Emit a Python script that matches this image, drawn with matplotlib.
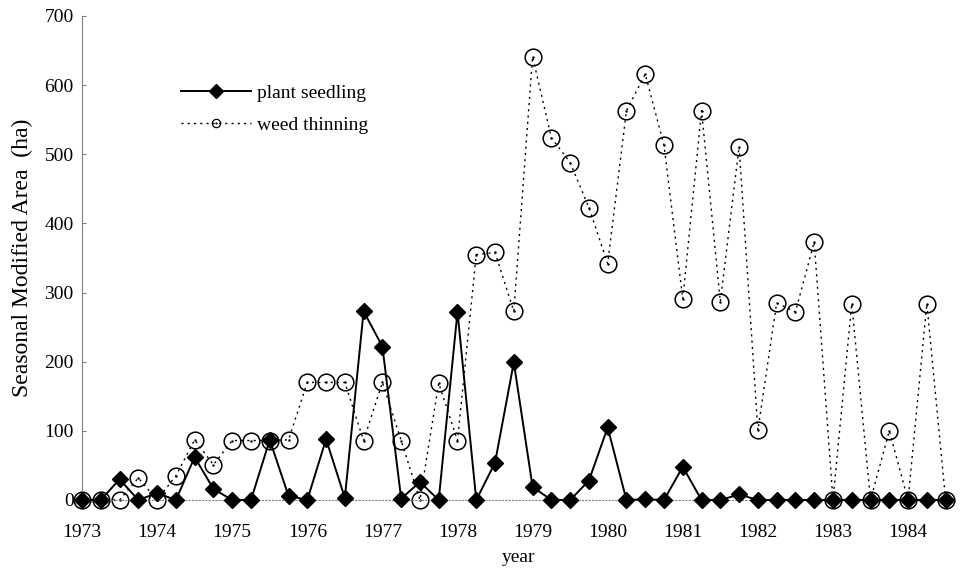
import numpy as np
import matplotlib
matplotlib.use("Agg")
import matplotlib.pyplot as plt
from matplotlib.lines import Line2D
from matplotlib.legend_handler import HandlerTuple

plt.rcParams['font.family'] = ['Liberation Serif', 'DejaVu Serif']

# ----------------------------------
# Data: quarterly (seasonal) values, 1973 Q1 .. 1984 Q3
# ----------------------------------
years = list(range(1973, 1985))

plant_seedling = [0, 0, 30, 0, 10, 0, 62, 16, 0, 0, 87, 6,
                  0, 88, 3, 273, 222, 2, 26, 0, 272, 0, 54, 199,
                  19, 0, 0, 28, 105, 0, 1, 0, 48, 0, 0, 8,
                  0, 0, 0, 0, 0, 0, 0, 0, 0, 0, 0]

weed_thinning = [0, 0, 0, 32, 0, 35, 87, 51, 86, 86, 86, 87,
                 170, 170, 170, 86, 170, 86, 0, 169, 86, 355, 358, 273,
                 641, 524, 488, 423, 342, 563, 616, 513, 291, 563, 287, 511,
                 101, 285, 272, 373, 0, 284, 0, 100, 0, 284, 0]

seasons = np.arange(len(plant_seedling))

# ----------------------------------
# Plot
# ----------------------------------
fig = plt.figure(figsize=(9.62, 5.68), dpi=100)
ax = fig.add_axes([82 / 962, 1 - 500 / 568, 873 / 962, 484 / 568])

wt_style = dict(color='black', linewidth=1.0, linestyle=(0, (1.5, 3)))
ax.plot(seasons, weed_thinning, marker='o', markersize=12,
        markerfacecolor='none', markeredgecolor='black', markeredgewidth=1.1,
        clip_on=False, zorder=2, **wt_style)
ax.plot(seasons, weed_thinning, linestyle='none', marker='.', markersize=1.5,
        color='black', clip_on=False, zorder=2)

ax.plot(seasons, plant_seedling, color='black', linewidth=1.4, marker='D',
        markersize=8, clip_on=False, zorder=3)

ax.set_xlim(0, 46.5)
ax.set_ylim(0, 700)
ax.set_yticks(range(0, 701, 100))
ax.set_xticks(seasons[::4])
ax.set_xticklabels([str(y) for y in years])

ax.tick_params(axis='y', direction='in', length=3, color='gray', labelsize=14, pad=6)
ax.tick_params(axis='x', length=0, labelsize=14, pad=17)

for side in ['top', 'right']:
    ax.spines[side].set_visible(False)
ax.spines['left'].set_color('gray')
ax.spines['left'].set_linewidth(0.8)
ax.spines['bottom'].set_color('gray')
ax.spines['bottom'].set_linewidth(0.8)
ax.spines['bottom'].set_linestyle((0, (1, 2)))

ax.set_xlabel('year', fontsize=14, labelpad=6)
ax.set_ylabel('Seasonal Modified Area  (ha)', fontsize=17, labelpad=8)

# legend
h_ps = Line2D([], [], color='black', linewidth=1.4, marker='D', markersize=7)
h_wt = Line2D([], [], marker='o', markersize=6, markerfacecolor='none',
              markeredgecolor='black', markeredgewidth=0.9, **wt_style)
h_dot = Line2D([], [], linestyle='none', marker='.', markersize=1.2, color='black')
ax.legend([h_ps, (h_wt, h_dot)], ['plant seedling', 'weed thinning'],
          handler_map={tuple: HandlerTuple(ndivide=1)},
          loc='upper left', bbox_to_anchor=(0.093, 0.895), frameon=False,
          fontsize=14, handlelength=3.6, handletextpad=0.3, labelspacing=0.75)

fig.savefig('out.png', dpi=100)
